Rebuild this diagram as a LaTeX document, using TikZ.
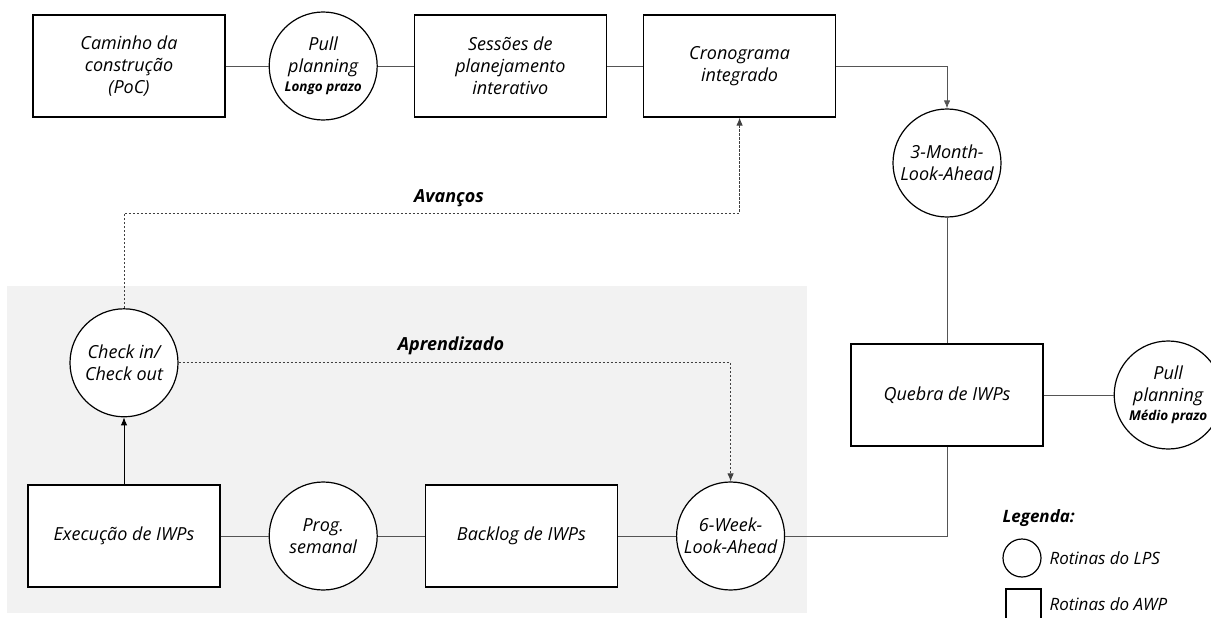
\documentclass[tikz,border=0pt]{standalone}
\usepackage{fontspec}
\setmainfont{Open Sans}
\usetikzlibrary{arrows, arrows.meta, positioning}
\definecolor{fundo}{HTML}{F2F2F2}
\definecolor{linha}{HTML}{555555}
\newcommand{\txt}{\fontsize{18pt}{22pt}\selectfont\itshape}
\newcommand{\legtxt}{\fontsize{17pt}{21pt}\selectfont\itshape}
\newcommand{\sub}{\fontsize{13.5pt}{16pt}\selectfont\bfseries\itshape}
\tikzstyle{caixa}=[draw, line width=1.2pt, fill=white, minimum width=192pt, minimum height=102pt, align=center, font=\txt]
\tikzstyle{roda}=[draw, circle, line width=1.2pt, fill=white, minimum size=108pt, inner sep=0pt, align=center, font=\txt]
\tikzstyle{rot}=[font=\fontsize{18pt}{22pt}\selectfont\bfseries\itshape]
\tikzstyle{lig}=[draw=linha, line width=0.9pt]
\tikzstyle{arr}=[lig, -{Latex[length=8pt, width=6.5pt]}]
\tikzstyle{tracejado}=[draw=black!75, line width=0.9pt, dash pattern=on 2.5pt off 1.5pt, -{Latex[length=8pt, width=6.5pt]}]

\begin{document}
\begin{tikzpicture}[x=1pt, y=-1pt, node distance=36pt]
    \useasboundingbox (0,0) rectangle (1211,618);
    \fill[fundo] (7,286) rectangle (807,613);

    % linha de cima
    \node [caixa](poc) at (129,66) {Caminho da\\construção\\(PoC)};
    \node [roda, right=43pt of poc](pplp) {Pull\\planning\\[-3pt]{\sub Longo prazo}};
    \node [caixa, right=of pplp](sess) {Sessões de\\planejamento\\interativo};
    \node [caixa, right=of sess](cron) {Cronograma\\integrado};

    % lado direito
    \node [roda](m3) at (947,163) {3-Month-\\Look-Ahead};
    \node [caixa](quebra) at (947,395) {Quebra de IWPs};
    \node [roda, right=70pt of quebra](ppmp) {Pull\\planning\\[-3pt]{\sub Médio prazo}};

    % linha de baixo
    \node [caixa](exec) at (124,536) {Execução de IWPs};
    \node [roda, right=48pt of exec](prog) {Prog.\\semanal};
    \node [caixa, right=47pt of prog](back) {Backlog de IWPs};
    \node [roda, right=58pt of back](w6) {6-Week-\\Look-Ahead};
    \node [roda, above=67pt of exec](ck) {Check in/\\Check out};

    \node [rot](avancos) at (449,198) {Avanços};
    \node [rot](aprend) at (451,346) {Aprendizado};
    \coordinate (avy) at (0,213);

    \path (poc) edge[lig] (pplp);
    \path (pplp) edge[lig] (sess);
    \path (sess) edge[lig] (cron);
    \draw[arr] (cron.east) -| (m3.north);
    \path (m3) edge[lig] (quebra);
    \path (quebra) edge[lig] (ppmp);
    \draw[lig] (quebra.south) |- (w6.east);
    \path (exec) edge[lig] (prog);
    \path (prog) edge[lig] (back);
    \path (back) edge[lig] (w6);
    \draw[arr, draw=black] (exec) -- (ck);
    \draw[tracejado] (ck.north) |- (cron.south |- avy) -- (cron.south);
    \draw[tracejado] (ck.east) -| (w6.north);

    % legenda
    \node [rot, font=\fontsize{17pt}{21pt}\selectfont\bfseries\itshape, anchor=west](leg) at (999,518) {Legenda:};
    \node [roda, minimum size=38pt](legc) at (1022,558) {};
    \node [anchor=west, font=\legtxt] at (1046,558) {Rotinas do LPS};
    \node [caixa, minimum width=35pt, minimum height=35pt](legq) at (1023.5,606.5) {};
    \node [anchor=west, font=\legtxt] at (1046,604) {Rotinas do AWP};
\end{tikzpicture}
\end{document}
